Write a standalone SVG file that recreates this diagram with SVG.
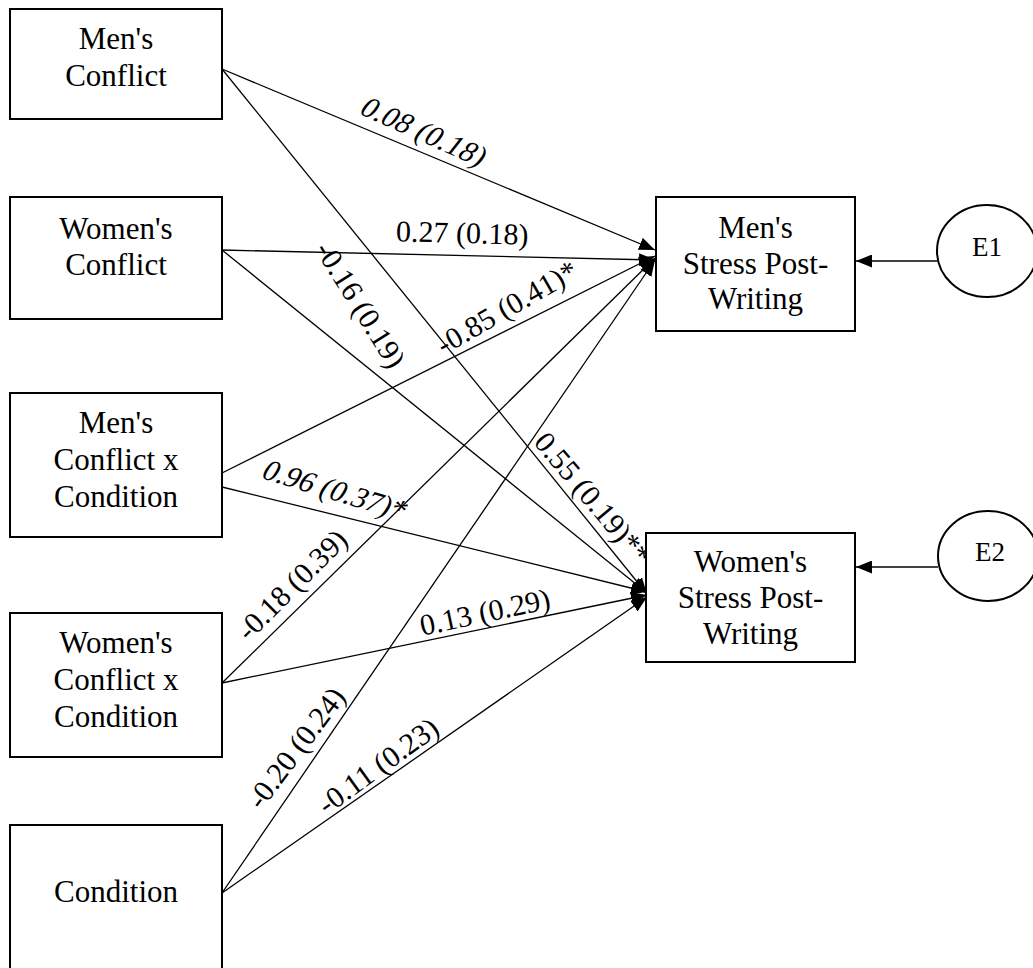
<svg xmlns="http://www.w3.org/2000/svg" width="1033" height="968" viewBox="0 0 1033 968">
<style>
.box{fill:#fff;stroke:#000;stroke-width:2}
.nt{font-family:"Liberation Serif","Times New Roman",serif;font-size:31px;fill:#000;text-anchor:middle}
.et{font-family:"Liberation Serif","Times New Roman",serif;font-size:27px;fill:#000;text-anchor:middle}
.lb{font-family:"Liberation Serif","Times New Roman",serif;font-size:30px;fill:#000;text-anchor:middle}
.cn{stroke:#000;stroke-width:1.3;fill:none;marker-end:url(#ah)}
</style>
<defs>
<marker id="ah" markerWidth="16" markerHeight="13" refX="16" refY="6.5" orient="auto" markerUnits="userSpaceOnUse">
<path d="M0,0 L16,6.5 L0,13 z" fill="#000"/>
</marker>
</defs>
<rect width="1033" height="968" fill="#fff"/>
<g id="connectors">
<line class="cn" x1="222" y1="69" x2="655" y2="250"/>
<line class="cn" x1="222" y1="69" x2="647" y2="594"/>
<line class="cn" x1="222" y1="250" x2="655" y2="260"/>
<line class="cn" x1="222" y1="250" x2="647" y2="593"/>
<line class="cn" x1="222" y1="473" x2="655" y2="256"/>
<line class="cn" x1="222" y1="487" x2="647" y2="592"/>
<line class="cn" x1="222" y1="683" x2="655" y2="258"/>
<line class="cn" x1="222" y1="683" x2="647" y2="595"/>
<line class="cn" x1="222" y1="893" x2="655" y2="260"/>
<line class="cn" x1="222" y1="893" x2="647" y2="597"/>
<line class="cn" x1="937" y1="261" x2="856" y2="261"/>
<line class="cn" x1="938" y1="567" x2="856" y2="567"/>
</g>
<g id="labels">
<text class="lb" transform="translate(418,140) rotate(24) skewX(-14)">0.08 (0.18)</text>
<text class="lb" transform="translate(462,243) rotate(1.5)">0.27 (0.18)</text>
<text class="lb" transform="translate(512,316) rotate(-30)">-0.85 (0.41)*</text>
<text class="lb" transform="translate(352,310) rotate(58)">-0.16 (0.19)</text>
<text class="lb" transform="translate(585,505) rotate(50)">0.55 (0.19)**</text>
<text class="lb" transform="translate(330,499) rotate(17) skewX(-14)">0.96 (0.37)*</text>
<text class="lb" transform="translate(299,592) rotate(-45)">-0.18 (0.39)</text>
<text class="lb" transform="translate(487,622) rotate(-12)">0.13 (0.29)</text>
<text class="lb" transform="translate(304,754) rotate(-53)">-0.20 (0.24)</text>
<text class="lb" transform="translate(384,774) rotate(-36)">-0.11 (0.23)</text>
</g>
<g id="mens-conflict">
<rect class="box" x="10" y="9" width="212" height="110"/>
<text class="nt" x="116" y="49">Men's</text>
<text class="nt" x="116" y="86">Conflict</text>
</g>
<g id="womens-conflict">
<rect class="box" x="10" y="197" width="212" height="122"/>
<text class="nt" x="116" y="239">Women's</text>
<text class="nt" x="116" y="275">Conflict</text>
</g>
<g id="mens-conflict-x-condition">
<rect class="box" x="10" y="393" width="212" height="144"/>
<text class="nt" x="116" y="433">Men's</text>
<text class="nt" x="116" y="470">Conflict x</text>
<text class="nt" x="116" y="507">Condition</text>
</g>
<g id="womens-conflict-x-condition">
<rect class="box" x="10" y="613" width="212" height="144"/>
<text class="nt" x="116" y="653">Women's</text>
<text class="nt" x="116" y="690">Conflict x</text>
<text class="nt" x="116" y="727">Condition</text>
</g>
<g id="condition">
<rect class="box" x="10" y="825" width="212" height="160"/>
<text class="nt" x="116" y="902">Condition</text>
</g>
<g id="mens-stress">
<rect class="box" x="656" y="197" width="199" height="134"/>
<text class="nt" x="755.5" y="238">Men's</text>
<text class="nt" x="755.5" y="274">Stress Post-</text>
<text class="nt" x="755.5" y="309">Writing</text>
</g>
<g id="womens-stress">
<rect class="box" x="646" y="533" width="209" height="129"/>
<text class="nt" x="750.5" y="572">Women's</text>
<text class="nt" x="750.5" y="608">Stress Post-</text>
<text class="nt" x="750.5" y="644">Writing</text>
</g>
<g id="e1">
<ellipse cx="987" cy="251" rx="50" ry="46" fill="#fff" stroke="#000" stroke-width="2"/>
<text class="et" x="987" y="256">E1</text>
</g>
<g id="e2">
<ellipse cx="988" cy="556" rx="50" ry="45" fill="#fff" stroke="#000" stroke-width="2"/>
<text class="et" x="990" y="561">E2</text>
</g>
</svg>
